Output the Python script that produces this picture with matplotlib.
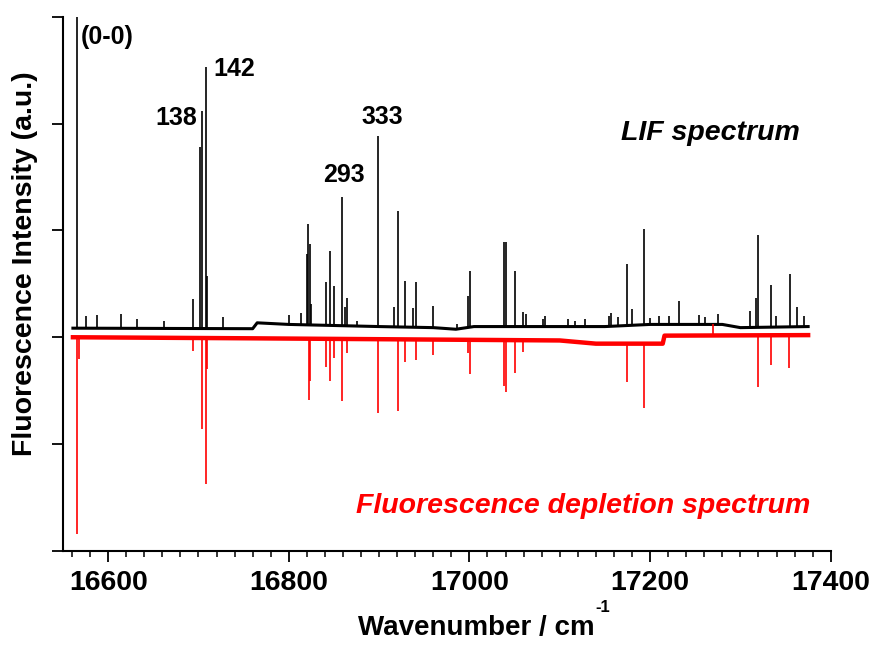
import numpy as np
import matplotlib
matplotlib.use("Agg")
import matplotlib.pyplot as plt
from matplotlib.ticker import MultipleLocator, NullFormatter

plt.rcParams['font.family'] = ['Liberation Sans', 'DejaVu Sans']
plt.rcParams['font.weight'] = 'bold'

# LIF spectrum: baseline knots and peak tops (a.u.)
lif_base_x = [16561, 16760, 16765, 16800, 16900, 16960, 16985, 17005, 17150, 17200, 17280, 17300, 17375]
lif_base_y = [0.085, 0.08, 0.135, 0.12, 0.10, 0.09, 0.075, 0.10, 0.10, 0.12, 0.12, 0.09, 0.10]
lif_pos = [16566, 16576, 16588, 16614, 16632, 16662, 16694, 16702, 16704, 16708, 16710, 16727,
           16800, 16814, 16820, 16821, 16823, 16825, 16841, 16846, 16850, 16859, 16862.5, 16865,
           16876, 16899, 16917, 16920.5, 16929, 16938, 16941, 16960, 16986, 16998, 17001,
           17038, 17041, 17050, 17059, 17063, 17081, 17084, 17109, 17117, 17128, 17154, 17157,
           17164, 17174, 17180, 17193.5, 17200, 17210, 17221, 17232, 17254, 17261, 17275,
           17311, 17317, 17320, 17334, 17339, 17355, 17363, 17370]
lif_top = [3.10, 0.20, 0.21, 0.22, 0.17, 0.15, 0.36, 1.78, 2.12, 2.53, 0.57, 0.19,
           0.21, 0.23, 0.78, 1.06, 0.87, 0.31, 0.52, 0.81, 0.48, 1.31, 0.28, 0.37,
           0.15, 1.88, 0.28, 1.18, 0.53, 0.27, 0.52, 0.29, 0.12, 0.39, 0.62,
           0.89, 0.89, 0.62, 0.24, 0.22, 0.17, 0.20, 0.17, 0.15, 0.17, 0.20, 0.23,
           0.19, 0.69, 0.26, 1.01, 0.18, 0.20, 0.20, 0.34, 0.21, 0.19, 0.22,
           0.25, 0.37, 0.96, 0.49, 0.20, 0.59, 0.28, 0.20]

# Fluorescence depletion spectrum: baseline knots and dip bottoms (a.u.)
dep_base_x = [16561, 16760, 17100, 17140, 17214, 17216, 17375]
dep_base_y = [0.0, -0.01, -0.03, -0.06, -0.06, 0.015, 0.02]
dep_pos = [16566, 16568, 16694, 16704, 16708, 16709.5, 16822, 16823.5, 16841, 16846, 16850,
           16859, 16864, 16899, 16920.5, 16929, 16941, 16960, 16998, 17001, 17038, 17041,
           17050, 17059, 17174, 17193.5, 17270, 17320, 17334, 17354]
dep_bottom = [-1.84, -0.20, -0.13, -0.86, -1.37, -0.30, -0.59, -0.41, -0.28, -0.41, -0.19,
              -0.60, -0.15, -0.71, -0.69, -0.23, -0.21, -0.17, -0.15, -0.34, -0.46, -0.51,
              -0.33, -0.14, -0.42, -0.66, 0.12, -0.47, -0.26, -0.29]

labels = ["(0-0)", "138", "142", "293", "333"]

fig = plt.figure(figsize=(8.76, 6.46), dpi=100)
ax = fig.add_axes([0.0719, 0.1471, 0.8764, 0.8271])

# baselines
ax.plot(lif_base_x, lif_base_y, color="black", lw=2.2)
ax.plot(dep_base_x, dep_base_y, color="red", lw=3.2)

# peaks
lif_foot = np.interp(lif_pos, lif_base_x, lif_base_y)
ax.vlines(lif_pos, lif_foot, lif_top, color="black", lw=1.2)
dep_foot = np.interp(dep_pos, dep_base_x, dep_base_y)
ax.vlines(dep_pos, dep_foot, dep_bottom, color="red", lw=1.2)

ax.set_xlim(16550, 17400)
ax.set_ylim(-2, 3)

# peak labels
ax.text(16570, 2.81, labels[0], fontsize=18, fontweight="bold", ha="left", va="center")
ax.text(16698, 2.05, labels[1], fontsize=18, fontweight="bold", ha="right", va="center")
ax.text(16717, 2.51, labels[2], fontsize=18, fontweight="bold", ha="left", va="center")
ax.text(16861.6, 1.52, labels[3], fontsize=18, fontweight="bold", ha="center", va="center")
ax.text(16903, 2.06, labels[4], fontsize=18, fontweight="bold", ha="center", va="center")

ax.text(17366, 1.91, "LIF spectrum", fontsize=20.5, fontweight="bold", style="italic",
        ha="right", va="center")
ax.text(17377, -1.58, "Fluorescence depletion spectrum", fontsize=20.5, fontweight="bold",
        style="italic", color="red", ha="right", va="center")

# axes styling
ax.spines["top"].set_visible(False)
ax.spines["right"].set_visible(False)
ax.spines["left"].set_linewidth(1.5)
ax.spines["bottom"].set_linewidth(1.5)
ax.xaxis.set_major_locator(MultipleLocator(200))
ax.xaxis.set_minor_locator(MultipleLocator(20))
ax.yaxis.set_major_locator(MultipleLocator(1))
ax.yaxis.set_major_formatter(NullFormatter())
ax.tick_params(axis="x", which="major", length=8, width=1.3, direction="out",
               labelsize=20.5, pad=6)
ax.tick_params(axis="x", which="minor", length=4, width=1.1, direction="out")
ax.tick_params(axis="y", which="major", length=8, width=1.3, direction="out")
for t in ax.get_xticklabels():
    t.set_fontweight("bold")

fig.text(358 / 876, 1 - 628 / 646, "Wavenumber / cm", fontsize=20,
         fontweight="bold", ha="left", va="center")
fig.text(595 / 876, 1 - 608 / 646, "-1", fontsize=12,
         fontweight="bold", ha="left", va="center")
fig.text(25 / 876, 1 - 263.5 / 646, "Fluorescence Intensity (a.u.)", fontsize=20.5,
         fontweight="bold", ha="center", va="center", rotation=90)

fig.savefig("out.png", dpi=100)
